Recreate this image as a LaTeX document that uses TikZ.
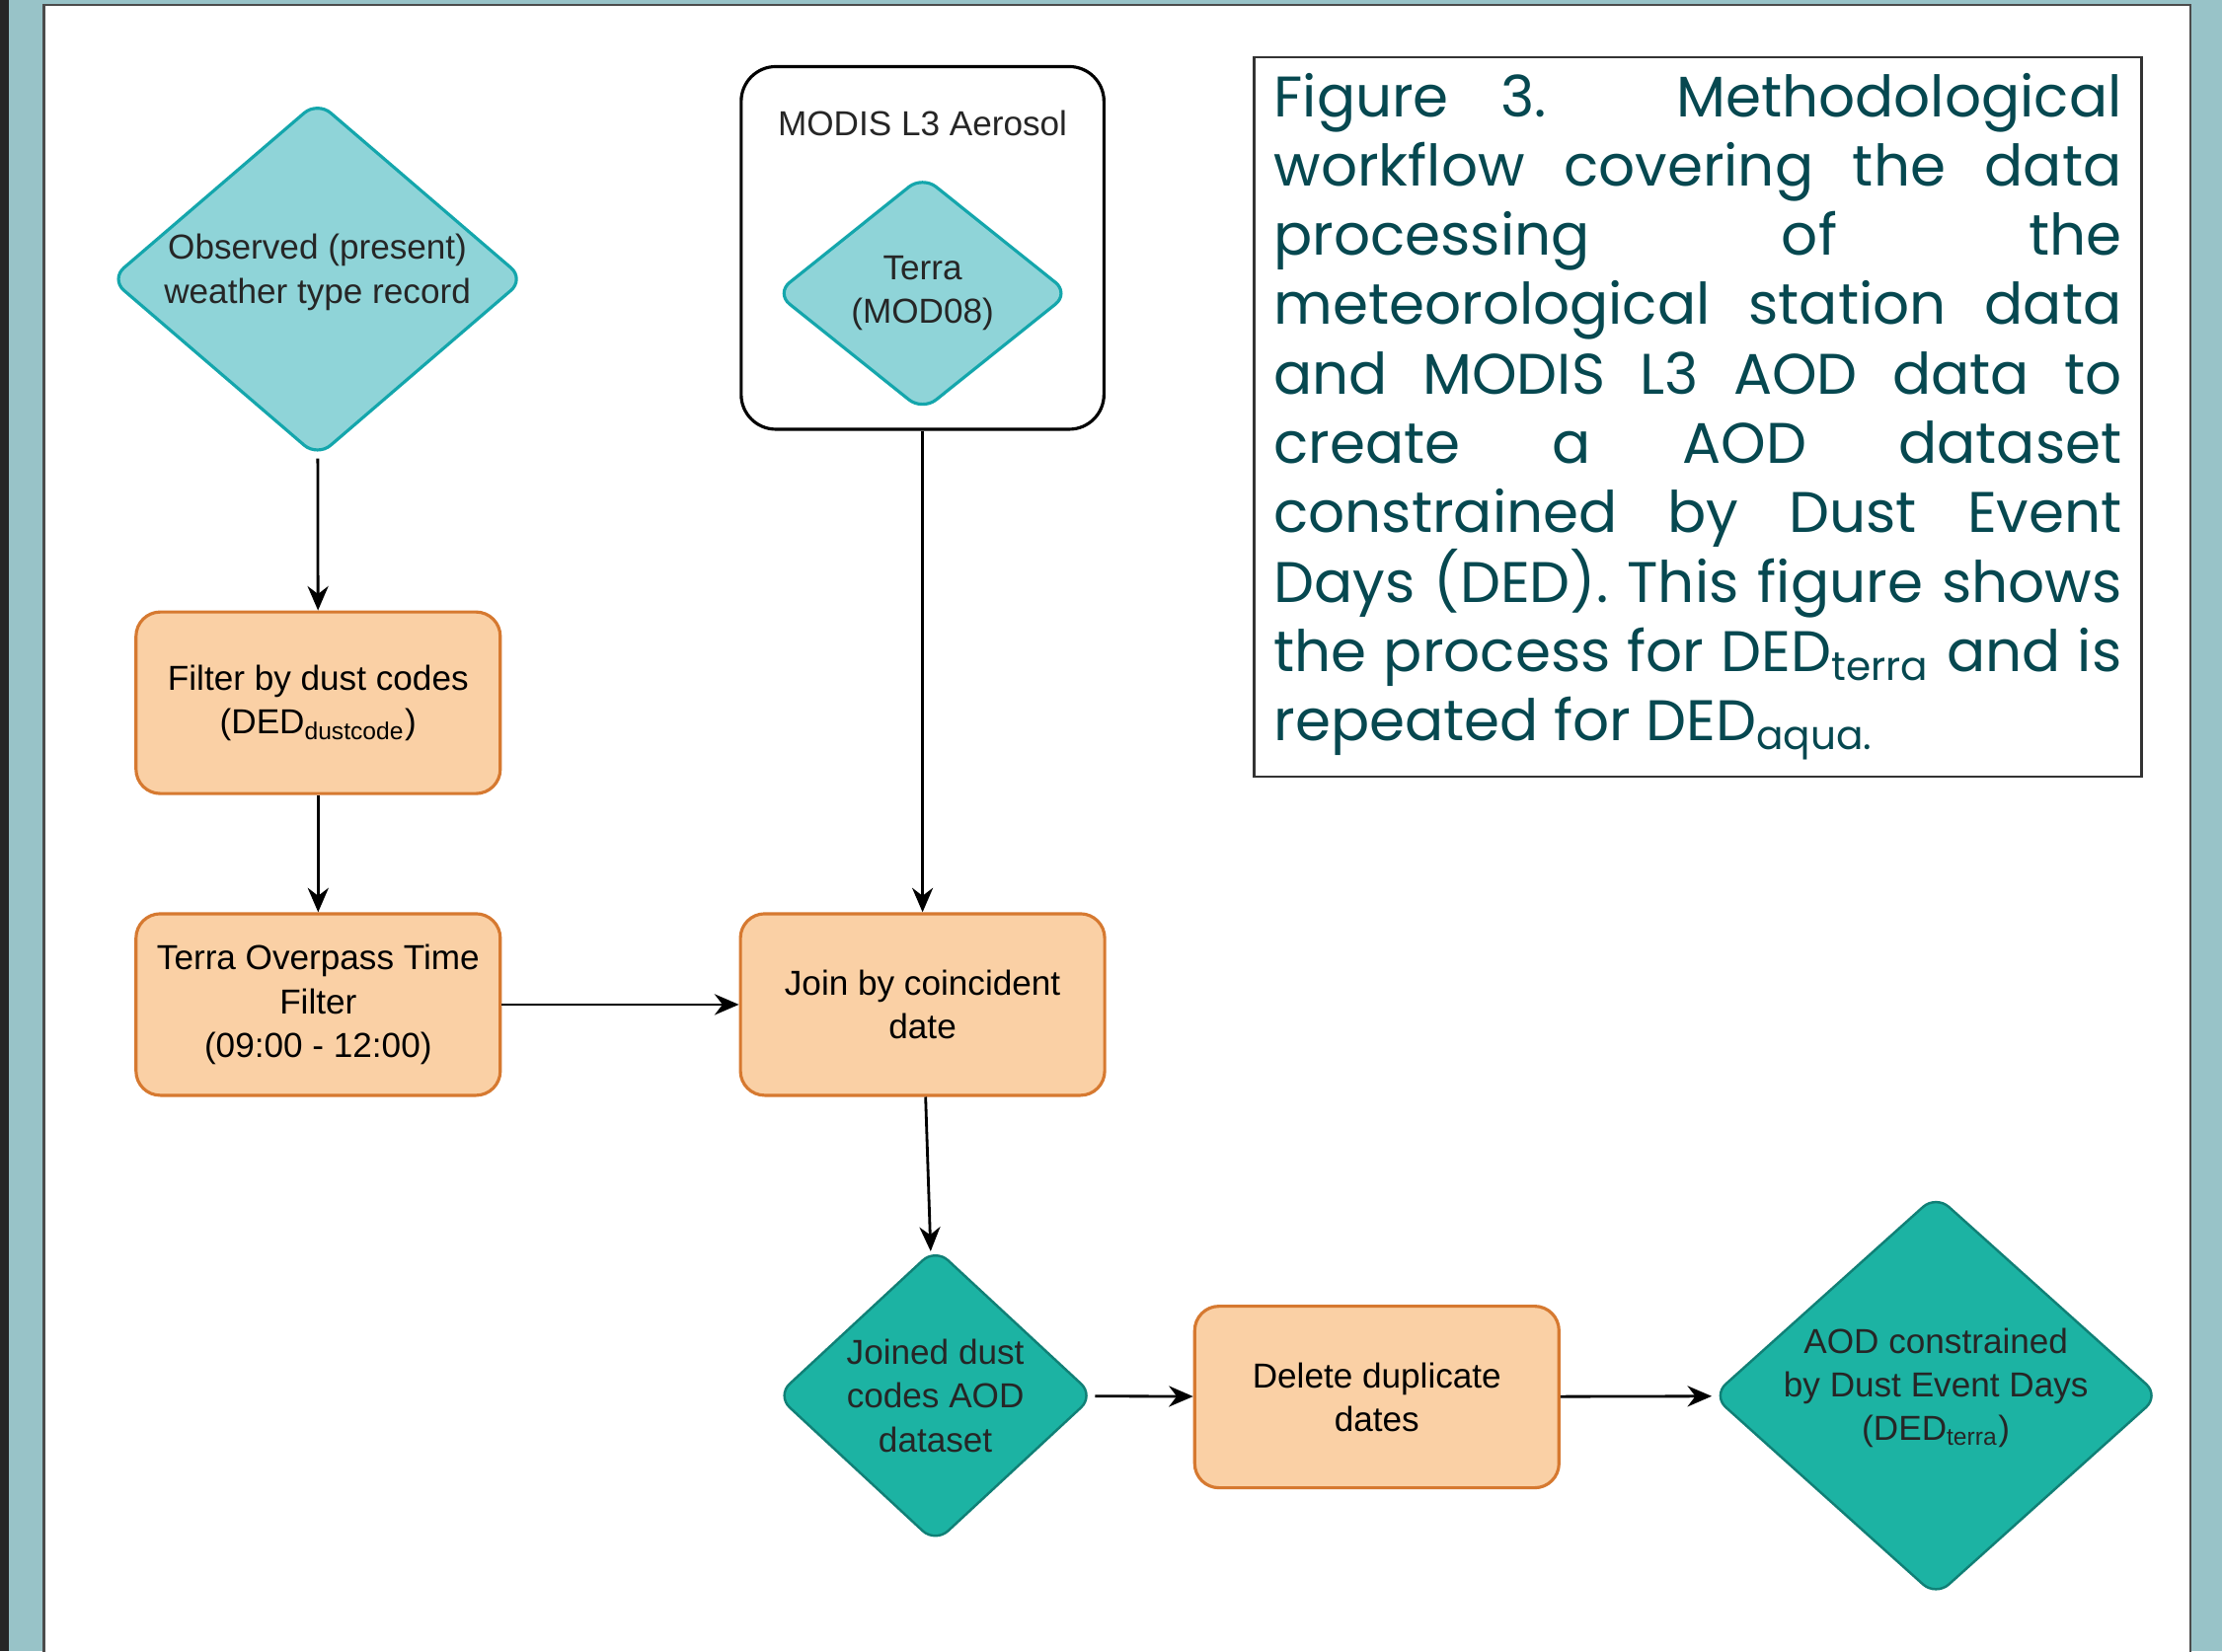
\documentclass[tikz,border=0pt]{standalone}
\usepackage{fontspec}
\setmainfont{Liberation Sans}
\newfontfamily\captionfont{Poppins}
\usepackage{xcolor}
\usetikzlibrary{shapes.geometric, arrows.meta, positioning}
\definecolor{panelbg}{RGB}{152,195,200}
\definecolor{lightteal}{RGB}{143,212,216}
\definecolor{lighttealline}{RGB}{20,166,172}
\definecolor{darkteal}{RGB}{28,179,163}
\definecolor{darktealline}{RGB}{16,128,118}
\definecolor{peach}{RGB}{250,208,165}
\definecolor{peachline}{RGB}{214,121,48}
\definecolor{captiontext}{RGB}{6,72,80}
\tikzset{
    process/.style={rectangle, rounded corners=7pt, minimum width=3.69cm, minimum height=1.84cm, text centered, draw=peachline, line width=0.9pt, fill=peach, align=center},
    source/.style={diamond, rounded corners=5pt, draw=lighttealline, line width=0.9pt, fill=lightteal, inner sep=0pt},
    product/.style={diamond, rounded corners=5pt, draw=darktealline, line width=0.7pt, fill=darkteal, inner sep=0pt},
    group/.style={rectangle, rounded corners=10pt, draw, line width=0.9pt, minimum width=3.675cm, minimum height=3.675cm},
    captionbox/.style={rectangle, draw=black!80, line width=0.6pt, text width=8.59cm, inner xsep=0.2cm, minimum height=7.29cm, align=justify, text=captiontext},
    arrow/.style={-{Stealth[length=7pt, width=6pt]}, line width=0.8pt}
}

\begin{document}
\begin{tikzpicture}[
    font=\fontsize{10}{12.6}\selectfont,
    every label/.style={align=center, font=\fontsize{10}{12.6}\selectfont, text=black!85}
]
    % Background and panel
    \useasboundingbox (0,0) rectangle (22.51,-16.73);
    \fill[panelbg] (0,0) rectangle (22.51,-16.73);
    \fill[black!85] (0,0) rectangle (0.09,-16.73);
    \draw[fill=white, draw=black!70, line width=0.8pt] (0.446,-0.05) rectangle (22.19,-17);

    % Input data
    \node[source, minimum width=4.2cm, minimum height=3.61cm, label={[yshift=0.07cm]center:{Observed (present)\\weather type record}}] (observed) at (3.216,-2.828) {};
    \node[group, label={[anchor=center, yshift=-0.59cm]north:MODIS L3 Aerosol}] (modis) at (9.346,-2.512) {};
    \node[source, minimum width=2.98cm, minimum height=2.39cm, label=center:{Terra\\(MOD08)}] (terra) at (9.346,-2.972) {};

    % Processing steps
    \node[process] (dustfilter) at (3.223,-7.121) {Filter by dust codes\\(DED\textsubscript{dustcode})};
    \node[process] (overpass) at (3.223,-10.179) {Terra Overpass Time\\Filter\\(09:00 - 12:00)};
    \node[process] (join) at (9.346,-10.179) {Join by coincident\\date};
    \node[product, minimum width=3.22cm, minimum height=2.99cm, label=center:{Joined dust\\codes AOD\\dataset}] (joined) at (9.476,-14.142) {};
    \node[process] (dedup) at (13.948,-14.156) {Delete duplicate\\dates};
    \node[product, minimum width=4.53cm, minimum height=4.07cm, label={[yshift=0.08cm]center:{AOD constrained\\by Dust Event Days\\(DED\textsubscript{terra})}}] (aodded) at (19.612,-14.142) {};

    % Caption
    \node[captionbox, font=\captionfont\fontsize{16.5}{20}\selectfont] (caption) at (17.20,-4.221) {\hyphenpenalty=10000\tolerance=10000 Figure 3. Methodological\linebreak workflow covering the data\linebreak processing of the\linebreak meteorological station data\linebreak and MODIS L3 AOD data to\linebreak create a AOD dataset\linebreak constrained by Dust Event\linebreak Days (DED). This figure shows\linebreak the process for DED\textsubscript{terra} and is\linebreak repeated for DED\textsubscript{aqua.}};

    % Connections
    \draw[arrow] (observed) -- (dustfilter);
    \draw[arrow] (dustfilter) -- (overpass);
    \draw[arrow] (overpass) -- (join);
    \draw[arrow] (modis) -- (join);
    \draw[arrow] (join) -- (joined);
    \draw[arrow] (joined) -- (dedup);
    \draw[arrow] (dedup) -- (aodded);
\end{tikzpicture}
\end{document}
